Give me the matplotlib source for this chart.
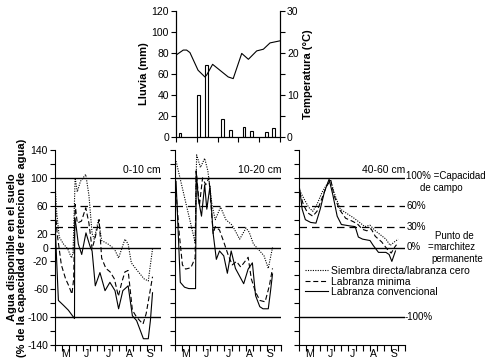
import matplotlib
matplotlib.use("Agg")
import matplotlib.pyplot as plt
import matplotlib.transforms as mtransforms
from matplotlib.lines import Line2D
import numpy as np

# ---- datos (x en meses desde el 1 de mayo) ----
lluvia_x = [0.19, 1.09, 1.46, 2.24, 2.63, 3.27, 3.62, 4.34, 4.70]
lluvia_mm = [4, 40, 69, 17.5, 6.5, 10, 5.5, 5, 9]

temp_x = [0.0, 0.35, 0.51, 0.67, 1.06, 1.39, 1.48, 1.76, 2.51, 2.75, 3.16, 3.48, 3.88, 4.20, 4.52, 5.0]
temp_c = [19.5, 20.7, 20.7, 20.1, 15.9, 14.3, 14.8, 17.3, 14.3, 13.9, 19.9, 18.5, 20.5, 20.9, 22.4, 22.9]

# 0-10 cm
sd1_x = [0.0, 0.08, 0.2, 0.4, 0.6, 0.78, 0.85, 0.95, 1.05, 1.2, 1.45, 1.6, 1.75, 1.85, 2.05, 2.2, 2.5, 2.8,
         3.0, 3.3, 3.45, 3.6, 3.8, 4.2, 4.4, 4.6]
sd1_y = [95, 50, 15, 5, -2, -15, -8, 100, 80, 95, 105, 75, 20, 12, 40, 10, 5, -2,
         -15, 12, 5, -22, -30, -45, -48, -2]
lm1_x = [0.0, 0.1, 0.3, 0.5, 0.65, 0.8, 0.88, 0.95, 1.05, 1.25, 1.45, 1.6, 1.75, 1.9, 2.08, 2.2, 2.4, 2.6,
         2.8, 2.99, 3.15, 3.3, 3.45, 3.65, 3.85, 4.15, 4.3, 4.5, 4.6]
lm1_y = [62, 20, -25, -45, -55, -67, -45, 62, 35, 38, 57, 35, -2, 15, 40, -15, -30, -35,
         -45, -70, -50, -35, -33, -90, -100, -110, -95, -60, -42]
lc1_x = [0.0, 0.08, 0.16, 0.4, 0.63, 0.92, 0.93, 1.0, 1.1, 1.26, 1.46, 1.65, 1.75, 1.9, 2.12, 2.36, 2.59,
         2.83, 3.0, 3.2, 3.45, 3.65, 3.85, 4.17, 4.4, 4.5, 4.6]
lc1_y = [38, -20, -76, -83, -90, -102, 43, 30, 5, -10, 21, 2, -5, -55, -36, -62, -50,
         -62, -88, -62, -55, -98, -105, -131, -131, -105, -65]

# 10-20 cm
sd2_x = [0.05, 0.95, 1.02, 1.2, 1.4, 1.55, 1.75, 1.9, 2.15, 2.4, 2.7, 3.05, 3.35, 3.5, 3.7, 4.0, 4.2,
         4.4, 4.6]
sd2_y = [124, 7, 133, 115, 128, 110, 60, 40, 58, 40, 32, 12, 28, 22, 5, -5, -12, -30, 0]
lm2_x = [0.05, 0.2, 0.35, 0.5, 0.75, 0.95, 1.0, 1.15, 1.3, 1.45, 1.6, 1.8, 1.9, 2.1, 2.3, 2.5, 2.7, 2.9,
         3.1, 3.3, 3.45, 3.6, 3.8, 4.0, 4.25, 4.45, 4.6]
lm2_y = [80, 20, -25, -31, -29, -15, 110, 60, 100, 90, 100, 20, 30, 25, 8, -10, -25, -20,
         -28, -20, -14, -45, -64, -76, -78, -55, -30]
lc2_x = [0.05, 0.25, 0.45, 0.65, 0.97, 1.0, 1.1, 1.25, 1.4, 1.5, 1.65, 1.8, 1.95, 2.1, 2.3, 2.47, 2.65,
         2.85, 3.24, 3.45, 3.65, 3.8, 4.0, 4.15, 4.4, 4.5, 4.6]
lc2_y = [95, -50, -57, -59, -59, 110, 70, 45, 90, 55, 88, 20, -17, -5, -12, -37, -5,
         -30, -52, -31, -22, -69, -85, -88, -88, -64, -38]

# 40-60 cm
sd3_x = [0.03, 0.2, 0.45, 0.65, 0.85, 1.1, 1.3, 1.48, 1.7, 1.95, 2.3, 2.6, 2.9, 3.1, 3.35, 3.6, 3.85,
         4.1, 4.3, 4.5, 4.68]
sd3_y = [82, 72, 58, 52, 62, 80, 90, 97, 75, 55, 48, 42, 35, 30, 32, 24, 18, 12, 3, 8, 12]
lm3_x = [0.03, 0.2, 0.4, 0.65, 0.85, 1.1, 1.3, 1.5, 1.65, 1.9, 2.2, 2.5, 2.75, 3.0, 3.2, 3.4, 3.6, 3.9,
         4.15, 4.35, 4.5, 4.6]
lm3_y = [80, 62, 50, 45, 52, 72, 88, 97, 75, 55, 42, 38, 34, 26, 24, 27, 16, 8, -2, -8, 0, 4]
lc3_x = [0.03, 0.15, 0.3, 0.55, 0.8, 1.0, 1.2, 1.42, 1.6, 1.8, 2.0, 2.4, 2.65, 2.8, 3.0, 3.35, 3.5, 3.75,
         4.1, 4.25, 4.38, 4.55]
lc3_y = [84, 55, 40, 36, 35, 55, 80, 98, 75, 45, 33, 31, 30, 15, 12, 10, 3, -7, -7, -10, -20, -5]

profundidades = ["0-10 cm", "10-20 cm", "40-60 cm"]
meses = ["M", "J", "J", "A", "S"]
y_etiquetas = [140, 100, 60, 20, 0, -20, -60, -100, -140]
series_nombres = ["Siembra directa/labranza cero", "Labranza minima", "Labranza convencional"]

ESTILOS = [(0, (1, 1.2)), (0, (4.5, 2.5)), "-"]


def panel_lluvia(fig):
    ax = fig.add_axes([176 / 493, 1 - 137 / 364, 104 / 493, 126 / 364])
    ax.bar(lluvia_x, lluvia_mm, width=0.13, color="white", edgecolor="black", linewidth=0.8)
    ax.set_xlim(0, 5)
    ax.set_ylim(0, 120)
    ax.set_yticks(np.arange(0, 121, 20))
    ax.set_xticks(np.arange(0, 6, 1))
    ax.set_xticklabels([])
    ax.spines["top"].set_visible(False)
    ax.tick_params(axis="both", direction="out", length=3.5, width=0.8, labelsize=7.5, pad=1.5)
    ax.set_ylabel("Lluvia (mm)", fontsize=8, fontweight="bold", labelpad=2)

    ax2 = ax.twinx()
    ax2.plot(temp_x, temp_c, color="black", linewidth=0.8)
    ax2.set_ylim(0, 30)
    ax2.set_yticks([0, 10, 20, 30])
    ax2.set_yticks([5, 15, 25], minor=True)
    ax2.spines["top"].set_visible(False)
    ax2.tick_params(axis="y", which="both", direction="out", length=3.5, width=0.8, labelsize=7.5, pad=1.5)
    ax2.set_ylabel("Temperatura (°C)", fontsize=8, fontweight="bold", labelpad=3)
    for s in ax.spines.values():
        s.set_linewidth(0.8)


def panel_suelo(fig, left, titulo, datos, primero):
    ax = fig.add_axes([left / 493, 1 - 345 / 364, 106 / 493, 195 / 364])
    for (xs, ys), ls in zip(datos, ESTILOS):
        ax.plot(xs, ys, color="black", linestyle=ls, linewidth=0.8)

    for nivel in [100, 0, -100]:
        ax.axhline(nivel, color="black", linewidth=1.0)
    for nivel in [60, 30]:
        ax.axhline(nivel, color="black", linewidth=0.9, linestyle=(0, (6, 4)))

    ax.set_xlim(0, 5)
    ax.set_ylim(-140, 140)
    ax.spines["top"].set_visible(False)
    ax.spines["right"].set_visible(False)
    for s in ax.spines.values():
        s.set_linewidth(0.8)

    ax.set_xticks(np.linspace(0, 5, 16))
    ax.set_xticklabels([])
    ax.set_xticks(np.arange(0.5, 5, 1), minor=True)
    ax.set_xticklabels(meses, minor=True)
    ax.tick_params(axis="x", which="major", direction="out", length=4, width=0.8)
    ax.tick_params(axis="x", which="minor", length=0, labelsize=7.5, pad=3)

    ticks = np.arange(-140, 141, 20)
    ax.set_yticks(ticks)
    if primero:
        ax.set_yticklabels([str(t) if t in y_etiquetas else "" for t in ticks])
    else:
        ax.set_yticklabels([])
    ax.tick_params(axis="y", direction="out", length=3.5, width=0.8, labelsize=7.5, pad=1.5)

    ax.text(1.0, 104, titulo, ha="right", va="bottom", fontsize=7.5,
            transform=mtransforms.blended_transform_factory(ax.transAxes, ax.transData))
    return ax


def main():
    plt.rcParams["font.family"] = ["Liberation Sans", "DejaVu Sans"]
    fig = plt.figure(figsize=(4.93, 3.64), dpi=100)

    panel_lluvia(fig)

    grupos = [
        [(sd1_x, sd1_y), (lm1_x, lm1_y), (lc1_x, lc1_y)],
        [(sd2_x, sd2_y), (lm2_x, lm2_y), (lc2_x, lc2_y)],
        [(sd3_x, sd3_y), (lm3_x, lm3_y), (lc3_x, lc3_y)],
    ]
    lefts = [55, 175, 299]
    axes = []
    for i, (left, titulo, datos) in enumerate(zip(lefts, profundidades, grupos)):
        axes.append(panel_suelo(fig, left, titulo, datos, i == 0))

    axes[0].set_ylabel("Agua disponible en el suelo\n(% de la capacidad de retencion de agua)",
                       fontsize=8, fontweight="bold", labelpad=0, linespacing=1.05)

    ax3 = axes[2]
    tr = mtransforms.blended_transform_factory(ax3.transAxes, ax3.transData)
    kw = dict(transform=tr, fontsize=7, clip_on=False, va="center")
    ax3.text(1.01, 103, "100% =Capacidad", **kw)
    ax3.text(1.14, 86, "de campo", **kw)
    ax3.text(1.015, 60, "60%", **kw)
    ax3.text(1.015, 30, "30%", **kw)
    ax3.text(1.015, 0, "0%", **kw)
    ax3.text(1.215, 0, "=", **kw)
    ax3.text(1.285, 16, "Punto de", **kw)
    ax3.text(1.265, 0, "marchitez", **kw)
    ax3.text(1.245, -16, "permanente", **kw)
    ax3.text(1.0, -100, "-100%", **kw)

    handles = [Line2D([], [], color="black", linestyle=ls, linewidth=0.8) for ls in ESTILOS]
    ax3.legend(handles, series_nombres, loc="upper left", bbox_to_anchor=(0.06, 0.405),
               frameon=False, fontsize=7.5, handlelength=2.2, handletextpad=0.3,
               labelspacing=0.05, borderpad=0, borderaxespad=0)

    fig.savefig("out.png", dpi=100)
    plt.close(fig)


if __name__ == "__main__":
    main()
